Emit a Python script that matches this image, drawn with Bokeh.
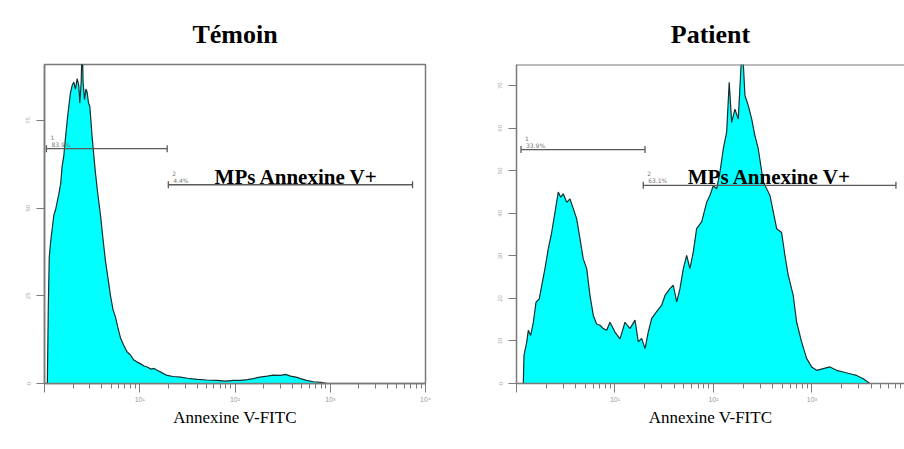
import numpy as np
from bokeh.plotting import figure
from bokeh.layouts import row
from bokeh.models import FixedTicker, Span, ColumnDataSource
from bokeh.embed import file_html
from bokeh.resources import INLINE
from bokeh.core.properties import value

# ---------------- data (log10 of Annexine V-FITC fluorescence, event counts) ----
temoin_logx = [0.030, 0.040, 0.050, 0.063, 0.080, 0.098, 0.120, 0.150, 0.170, 0.185,
               0.203, 0.220, 0.238, 0.255, 0.273, 0.290, 0.308, 0.325, 0.343, 0.360,
               0.371, 0.385, 0.396, 0.405, 0.420, 0.435, 0.448, 0.462, 0.476, 0.490,
               0.501, 0.518, 0.535, 0.560, 0.588, 0.615, 0.640, 0.667, 0.693, 0.720,
               0.745, 0.770, 0.798, 0.830, 0.868, 0.900, 0.935, 0.973, 1.010, 1.045,
               1.078, 1.120, 1.150, 1.183, 1.230, 1.288, 1.350, 1.428, 1.500, 1.603,
               1.700, 1.813, 1.900, 1.980, 2.058, 2.130, 2.194, 2.260, 2.338, 2.400,
               2.478, 2.530, 2.583, 2.640, 2.688, 2.750, 2.824, 2.900, 2.971]
temoin_counts = [0, 22, 36, 40, 44, 48, 50, 54, 57, 62,
                 65, 70, 75, 79, 83, 85, 86, 84, 87, 85,
                 80, 86, 98, 86, 81, 84, 83, 80, 79, 74,
                 70, 65, 60, 54, 48, 41, 35, 30, 25, 21,
                 19, 16, 13, 11, 9, 8.2, 6.8, 6.1, 5.6, 5.0,
                 4.7, 4.1, 4.3, 3.8, 3.1, 2.3, 2.0, 1.8, 1.5, 1.2,
                 1.0, 0.9, 0.7, 0.9, 0.9, 1.1, 1.4, 1.8, 2.1, 2.4,
                 2.3, 2.6, 2.1, 1.8, 1.4, 0.9, 0.5, 0.3, 0]

patient_logx = [0.069, 0.076, 0.104, 0.120, 0.144, 0.171, 0.198, 0.231, 0.256, 0.289,
                0.323, 0.357, 0.391, 0.424, 0.449, 0.475, 0.510, 0.543, 0.577, 0.611,
                0.645, 0.678, 0.713, 0.746, 0.780, 0.814, 0.848, 0.882, 0.916, 0.949,
                1.000, 1.051, 1.102, 1.152, 1.203, 1.237, 1.271, 1.305, 1.338, 1.373,
                1.423, 1.474, 1.508, 1.558, 1.592, 1.627, 1.660, 1.694, 1.728, 1.761,
                1.795, 1.829, 1.880, 1.931, 1.964, 1.998, 2.033, 2.066, 2.100, 2.134,
                2.160, 2.185, 2.218, 2.252, 2.292, 2.320, 2.353, 2.388, 2.421, 2.455,
                2.506, 2.540, 2.574, 2.608, 2.642, 2.692, 2.726, 2.759, 2.810, 2.845,
                2.895, 2.946, 2.997, 3.048, 3.115, 3.183, 3.251, 3.318, 3.386, 3.454,
                3.521, 3.589]
patient_counts = [0, 6.6, 9.8, 12.5, 11.3, 14.4, 19.1, 19.9, 23.0, 27.0,
                  31.7, 35.5, 40.3, 45.0, 43.8, 44.6, 42.6, 43.4, 41.1, 38.7,
                  34.0, 29.3, 27.0, 20.7, 16.0, 14.0, 13.7, 12.9, 12.5, 14.4,
                  12.1, 10.5, 14.4, 12.9, 14.9, 9.8, 10.6, 8.2, 12.1, 15.3,
                  16.9, 18.4, 20.7, 22.3, 23.1, 19.2, 22.3, 27.0, 30.1, 27.0,
                  30.9, 36.4, 38.0, 42.6, 44.2, 46.5, 45.8, 49.7, 55.2, 59.1,
                  70.8, 61.4, 64.5, 62.2, 80.0, 67.7, 65.4, 62.2, 58.3, 55.2,
                  47.4, 45.8, 44.2, 40.3, 36.4, 35.5, 30.1, 25.5, 20.7, 14.4,
                  9.8, 5.9, 3.9, 3.1, 3.5, 3.9, 3.1, 2.7, 2.3, 1.9,
                  1.1, 0]

# gates (markers) : start / end in log10 units, level in counts
temoin_gate_start = [0.02, 1.30]
temoin_gate_end = [1.288, 3.864]
temoin_gate_level = [67.0, 56.7]
temoin_gate_pct = ["83.9%", "4.4%"]

patient_gate_start = [0.046, 1.287]
patient_gate_end = [1.305, 3.853]
patient_gate_level = [55.0, 46.6]
patient_gate_pct = ["33.9%", "63.1%"]

gate_ids = ["1", "2"]

temoin_yticks = [0, 25, 50, 75]
patient_yticks = [0, 10, 20, 30, 40, 50, 60, 70]

titles = ["Témoin", "Patient"]
x_label = "Annexine V-FITC"
gate_text = "MPs Annexine V+"
x_major = [1, 10, 100, 1000, 10000]
x_major_labels = {1: "", 10: "10¹", 100: "10²", 1000: "10³", 10000: "10⁴"}

# ---------------- styles ----------------
SERIF = "Liberation Serif"
FRAME = "#7a7a7a"
CYAN = "#00FFFF"
EDGE = "#123030"
GATE = "#5a5a5a"

minor = [m * 10 ** k for k in range(0, 4) for m in range(2, 10)]


def make_panel(title, logx, counts, ymax, yticks, xmax_log, gstart, gend, glevel, gpct,
               width, bl, br, outline, text_dx):
    p = figure(width=width, height=438, x_axis_type="log",
               x_range=(1, 10 ** xmax_log), y_range=(0, ymax),
               output_backend="svg", toolbar_location=None,
               min_border_left=bl, min_border_right=br,
               min_border_top=64, min_border_bottom=55)
    p.title.text = title
    p.title.align = "center"
    p.title.vertical_align = "top"
    p.title.text_font = SERIF
    p.title.text_font_size = "26px"
    p.title.text_font_style = "bold"
    p.title.text_color = "black"
    p.title.standoff = 27
    p.grid.visible = False
    p.background_fill_color = "white"
    p.border_fill_color = "white"
    if outline:
        p.outline_line_color = FRAME
        p.outline_line_width = 1.5
    else:
        p.outline_line_color = None
        p.add_layout(Span(location=ymax * 0.999, dimension="width",
                          line_color=FRAME, line_width=1.5))

    xs = [10 ** v for v in logx]
    src = ColumnDataSource(dict(x=xs, y=counts))
    p.varea(x="x", y1=0, y2="y", source=src, fill_color=CYAN)
    p.line(x="x", y="y", source=src, line_color=EDGE, line_width=1.2)

    # gates
    gx0 = [10 ** v for v in gstart]
    gx1 = [10 ** v for v in gend]
    gs = ColumnDataSource(dict(x0=gx0, x1=gx1, y=glevel, ids=gate_ids, pct=gpct))
    p.segment(x0="x0", y0="y", x1="x1", y1="y", source=gs, line_color=GATE, line_width=1.3)
    p.scatter(x="x0", y="y", source=gs, marker="dash", angle=np.pi / 2, size=7,
              line_color=GATE, line_width=1.3)
    p.scatter(x="x1", y="y", source=gs, marker="dash", angle=np.pi / 2, size=7,
              line_color=GATE, line_width=1.3)
    p.text(x="x0", y="y", text="ids", source=gs, x_offset=4, y_offset=-9,
           text_font=value("DejaVu Sans"), text_font_size="6px", text_color="#777777",
           text_baseline="bottom")
    p.text(x="x0", y="y", text="pct", source=gs, x_offset=5, y_offset=-1,
           text_font=value("DejaVu Sans"), text_font_size="6px", text_color="#777777",
           text_baseline="bottom")
    mid = 10 ** ((gstart[1] + gend[1]) / 2)
    p.text(x=[mid], y=[glevel[1]], text=[gate_text], x_offset=text_dx, y_offset=-8,
           text_font=value(SERIF), text_font_size="21px", text_font_style="bold",
           text_color="black", text_align="center", text_baseline="alphabetic")

    # x axis
    xa = p.xaxis[0]
    xa.ticker = FixedTicker(ticks=x_major, minor_ticks=minor)
    xa.major_label_overrides = x_major_labels
    xa.axis_label = x_label
    xa.axis_label_text_font = SERIF
    xa.axis_label_text_font_size = "17px"
    xa.axis_label_text_font_style = "normal"
    xa.axis_label_text_color = "black"
    xa.axis_label_standoff = 2
    xa.major_label_text_font_size = "7px"
    xa.major_label_text_color = "#9a9a9a"
    xa.major_label_standoff = 3
    xa.axis_line_color = FRAME
    xa.axis_line_width = 1.5
    xa.major_tick_line_color = FRAME
    xa.minor_tick_line_color = FRAME
    xa.major_tick_out = 9
    xa.major_tick_in = 0
    xa.minor_tick_out = 5
    xa.minor_tick_in = 0

    ya = p.yaxis[0]
    ya.ticker = FixedTicker(ticks=yticks)
    ya.major_label_text_font_size = "6px"
    ya.major_label_text_color = "#aaaaaa"
    ya.major_label_orientation = "vertical"
    ya.major_label_standoff = 6
    ya.axis_line_color = FRAME
    ya.axis_line_width = 1.5
    ya.major_tick_line_color = FRAME
    ya.major_tick_out = 8
    ya.major_tick_in = 0
    ya.minor_tick_line_color = None
    return p


p1 = make_panel(titles[0], temoin_logx, temoin_counts, 91, temoin_yticks, 4.0,
                temoin_gate_start, temoin_gate_end, temoin_gate_level, temoin_gate_pct,
                width=468, bl=44, br=43, outline=True, text_dx=6)
p2 = make_panel(titles[1], patient_logx, patient_counts, 75, patient_yticks, 3.94,
                patient_gate_start, patient_gate_end, patient_gate_level, patient_gate_pct,
                width=436, bl=48, br=0, outline=False, text_dx=0)

layout = row(p1, p2)
open("out.html", "w").write(file_html(layout, INLINE))
